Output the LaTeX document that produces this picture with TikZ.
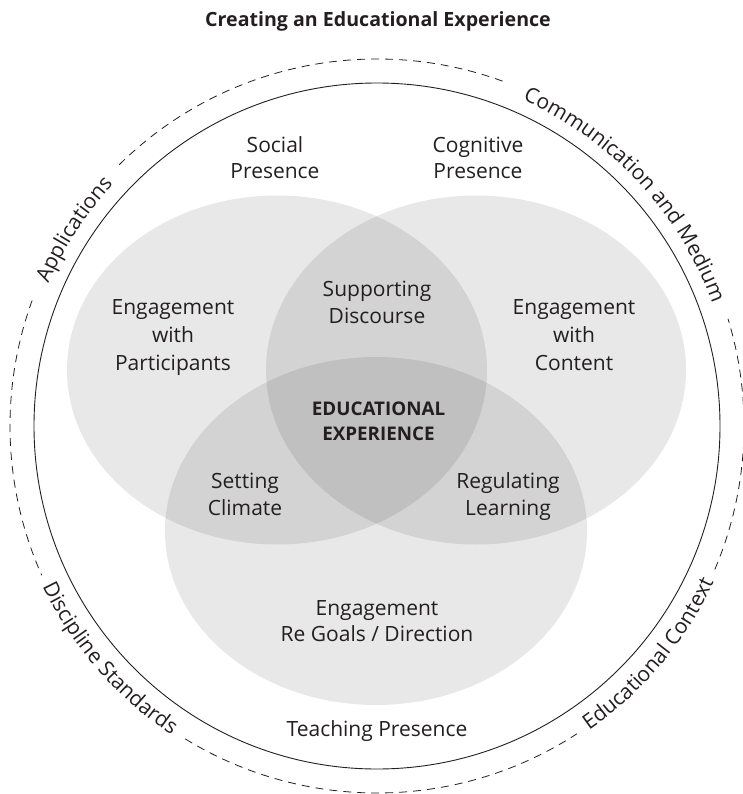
\documentclass[tikz,border=0pt]{standalone}
\usepackage{fontspec}
\setmainfont{Open Sans}
\usetikzlibrary{decorations.text,calc}
\definecolor{ink}{HTML}{231F20}
\newcommand\arcfont{\fontsize{21}{27}\selectfont}
\tikzset{
  lbl/.style={anchor=base, inner sep=0pt, text=ink, font=\fontsize{21}{27}\selectfont},
  blbl/.style={lbl, font=\bfseries\fontsize{18.8}{25}\selectfont},
  titlelbl/.style={lbl, font=\bfseries\fontsize{19.6}{24}\selectfont},
  venn/.style={fill=black, fill opacity=0.09, draw=none},
  ring/.style={draw=ink, line width=0.9pt},
  dashring/.style={draw=ink, line width=0.8pt, dash pattern=on 8pt off 6pt},
  curved/.style={decorate, decoration={text along path, text align=center, text color=ink}},
}
\begin{document}
\begin{tikzpicture}[x=1pt,y=1pt]
\useasboundingbox (0,0) rectangle (743,-794);
\coordinate (O) at (377,-426);

% Venn ellipses
\path[venn] (277,-370) ellipse [x radius=210pt, y radius=174.5pt];
\path[venn] (476,-370) ellipse [x radius=210pt, y radius=174.5pt];
\path[venn] (376,-531) ellipse [x radius=211pt, y radius=174pt];

% outer rings
\draw[ring] (O) circle [radius=343pt];
\draw[dashring] ($(O)+(70:367pt)$) arc[start angle=70, end angle=135, radius=367pt];
\draw[dashring] ($(O)+(160:367pt)$) arc[start angle=160, end angle=204, radius=367pt];
\draw[dashring] ($(O)+(238.5:367pt)$) arc[start angle=238.5, end angle=303, radius=367pt];
\draw[dashring] ($(O)+(337:367pt)$) arc[start angle=337, end angle=377, radius=367pt];

% curved labels
\path[curved, decoration={text={|\arcfont|Applications}}]
  ($(O)+(187:358pt)$) arc[start angle=187, end angle=107, radius=358pt];
\path[curved, decoration={text={|\arcfont|Communication and Medium}}]
  ($(O)+(93:357pt)$) arc[start angle=93, end angle=-7, radius=357pt];
\path[curved, decoration={text={|\arcfont|Discipline Standards}}]
  ($(O)+(181:371pt)$) arc[start angle=181, end angle=261, radius=371pt];
\path[curved, decoration={text={|\arcfont|Educational Context}}]
  ($(O)+(280:371pt)$) arc[start angle=280, end angle=360, radius=371pt];

% title
\node[titlelbl] (title) at (378,-26.7) {Creating an Educational Experience};

% presence labels
\node[lbl] (sp1) at (275,-152.3) {Social};
\node[lbl] (sp2) at (275,-179) {Presence};
\node[lbl] (cp1) at (478,-152.3) {Cognitive};
\node[lbl] (cp2) at (478,-179) {Presence};
\node[lbl] (tp) at (377,-736.7) {Teaching Presence};

% region labels
\node[lbl] (ep1) at (173,-314.3) {Engagement};
\node[lbl] (ep2) at (173,-342.5) {with};
\node[lbl] (ep3) at (173,-370) {Participants};
\node[lbl] (ec1) at (574,-314.3) {Engagement};
\node[lbl] (ec2) at (574,-342.5) {with};
\node[lbl] (ec3) at (574,-370) {Content};
\node[lbl] (sd1) at (377,-296) {Supporting};
\node[lbl] (sd2) at (377,-323) {Discourse};
\node[lbl] (sc1) at (245,-488) {Setting};
\node[lbl] (sc2) at (245,-515) {Climate};
\node[lbl] (rl1) at (508,-488) {Regulating};
\node[lbl] (rl2) at (508,-515) {Learning};
\node[lbl] (eg1) at (377,-615) {Engagement};
\node[lbl] (eg2) at (377,-641.7) {Re Goals / Direction};
\node[blbl] (ee1) at (378.5,-415.7) {EDUCATIONAL};
\node[blbl] (ee2) at (378.5,-440.7) {EXPERIENCE};
\end{tikzpicture}
\end{document}
